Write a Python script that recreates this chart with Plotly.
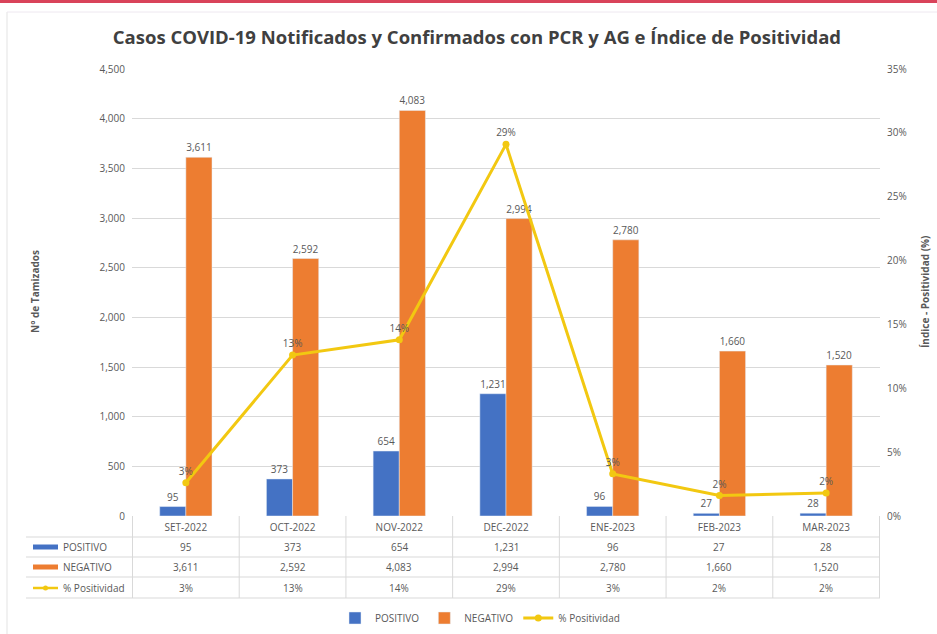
import plotly.graph_objects as go

months = ["SET-2022", "OCT-2022", "NOV-2022", "DEC-2022", "ENE-2023", "FEB-2023", "MAR-2023"]
positivo = [95, 373, 654, 1231, 96, 27, 28]
negativo = [3611, 2592, 4083, 2994, 2780, 1660, 1520]
positividad = [2.6, 12.6, 13.8, 29.1, 3.3, 1.6, 1.8]
positividad_labels = ["3%", "13%", "14%", "29%", "3%", "2%", "2%"]

BLUE = "#4472C4"
ORANGE = "#ED7D31"
YELLOW = "#F2C811"
GRAY = "#595959"
FONT = "Open Sans"

W, H = 937, 634
L, R, T, B = 132, 57, 69, 118
plot_w = W - L - R
plot_h = H - T - B


def px_to_py(y_px):
    # pixel row -> paper y
    return (H - B - y_px) / plot_h


def px_to_px(x_px):
    return (x_px - L) / plot_w


fig = go.Figure()

fig.add_trace(go.Bar(
    x=months, y=positivo, name="POSITIVO", marker_color=BLUE,
    text=[f"{v:,}" for v in positivo], textposition="outside",
    textfont=dict(size=10, color=GRAY), cliponaxis=False,
))
fig.add_trace(go.Bar(
    x=months, y=negativo, name="NEGATIVO", marker_color=ORANGE,
    text=[f"{v:,}" for v in negativo], textposition="outside",
    textfont=dict(size=10, color=GRAY), cliponaxis=False,
))
fig.add_trace(go.Scatter(
    x=months, y=positividad, name="% Positividad", yaxis="y2",
    mode="lines+markers+text", line=dict(color=YELLOW, width=3),
    marker=dict(size=7, color=YELLOW),
    text=positividad_labels, textposition="top center",
    textfont=dict(size=10, color=GRAY), cliponaxis=False,
))

# data table under the x axis
row_names = ["POSITIVO", "NEGATIVO", "% Positividad"]
row_values = [
    [f"{v:,}" for v in positivo],
    [f"{v:,}" for v in negativo],
    positividad_labels,
]
row_centers = [547, 567, 588]
row_lines = [537, 557, 577, 598]

annotations = []
shapes = []
for name, vals, yc in zip(row_names, row_values, row_centers):
    for m, v in zip(months, vals):
        annotations.append(dict(
            x=m, y=px_to_py(yc), xref="x", yref="paper", text=v,
            xanchor="center", yanchor="middle",
            showarrow=False, font=dict(size=10, color=GRAY),
        ))
    annotations.append(dict(
        x=px_to_px(61), y=px_to_py(yc), xref="paper", yref="paper", text=name,
        showarrow=False, xanchor="left", yanchor="middle",
        font=dict(size=10, color=GRAY),
    ))

for yl in row_lines:
    shapes.append(dict(
        type="line", xref="paper", yref="paper",
        x0=px_to_px(26), x1=1, y0=px_to_py(yl), y1=px_to_py(yl),
        line=dict(color="#D9D9D9", width=1),
    ))
for i in range(len(months) + 1):
    shapes.append(dict(
        type="line", xref="x", yref="paper",
        x0=i - 0.5, x1=i - 0.5, y0=0, y1=px_to_py(598),
        line=dict(color="#D9D9D9", width=1),
    ))

# legend keys inside the table
for col, yc in [(BLUE, 547), (ORANGE, 567)]:
    shapes.append(dict(
        type="rect", xref="paper", yref="paper",
        x0=px_to_px(33), x1=px_to_px(58),
        y0=px_to_py(yc + 2.5), y1=px_to_py(yc - 2.5),
        fillcolor=col, line=dict(width=0),
    ))
shapes.append(dict(
    type="line", xref="paper", yref="paper",
    x0=px_to_px(33), x1=px_to_px(58), y0=px_to_py(588), y1=px_to_py(588),
    line=dict(color=YELLOW, width=2.5),
))
shapes.append(dict(
    type="circle", xref="paper", yref="paper",
    x0=px_to_px(43), x1=px_to_px(48), y0=px_to_py(590.5), y1=px_to_py(585.5),
    fillcolor=YELLOW, line=dict(width=0),
))

# page decoration: red band on top and light frame
shapes.append(dict(
    type="rect", xref="paper", yref="paper",
    x0=px_to_px(0), x1=px_to_px(W), y0=px_to_py(0), y1=px_to_py(3),
    fillcolor="#D9435A", line=dict(width=0), layer="below",
))
shapes.append(dict(
    type="line", xref="paper", yref="paper",
    x0=px_to_px(7), x1=px_to_px(7), y0=px_to_py(12), y1=px_to_py(H),
    line=dict(color="#E3E3E3", width=1), layer="below",
))
shapes.append(dict(
    type="line", xref="paper", yref="paper",
    x0=px_to_px(7), x1=px_to_px(W), y0=px_to_py(12), y1=px_to_py(12),
    line=dict(color="#EEE8F0", width=1), layer="below",
))

# axis titles
annotations.append(dict(
    x=px_to_px(35), y=px_to_py(292), xref="paper", yref="paper",
    text="<b>N° de Tamizados</b>", textangle=-90, showarrow=False,
    xanchor="center", yanchor="middle", font=dict(size=10, color=GRAY),
))
annotations.append(dict(
    x=px_to_px(925), y=px_to_py(292), xref="paper", yref="paper",
    text="<b>Índice - Positividad (%)</b>", textangle=-90, showarrow=False,
    xanchor="center", yanchor="middle", font=dict(size=10, color=GRAY),
))

fig.update_layout(
    width=W, height=H,
    margin=dict(l=L, r=R, t=T, b=B, autoexpand=False),
    paper_bgcolor="white", plot_bgcolor="white",
    font=dict(family=FONT, color=GRAY, size=10),
    title=dict(
        text="<b>Casos COVID-19 Notificados y Confirmados con PCR y AG e Índice de Positividad</b>",
        x=0.509, xanchor="center", xref="container",
        y=1 - 38 / H, yanchor="middle",
        font=dict(family=FONT, size=18.5, color="#404040"),
    ),
    barmode="group", bargap=0.51, bargroupgap=0,
    xaxis=dict(
        tickfont=dict(size=10, color=GRAY), showgrid=False, showline=False,
        ticks="", ticklabelstandoff=4,
    ),
    yaxis=dict(
        range=[0, 4500], dtick=500, tickformat=",", gridcolor="#D9D9D9",
        zeroline=False, tickfont=dict(size=10, color=GRAY), ticklabelstandoff=6,
    ),
    yaxis2=dict(
        range=[0, 35], dtick=5, ticksuffix="%", overlaying="y", side="right",
        showgrid=False, zeroline=False, tickfont=dict(size=10, color=GRAY),
        ticklabelstandoff=6,
    ),
    legend=dict(
        orientation="h", x=px_to_px(480), xanchor="center",
        y=px_to_py(618), yanchor="middle",
        font=dict(size=10, color=GRAY), traceorder="normal",
    ),
    shapes=shapes,
    annotations=annotations,
)

# the page body has a default 8px margin; drop it so the figure sits at 0,0
fig.write_html(
    "out.html",
    config={"displayModeBar": False},
    post_script="document.body.style.margin='0';",
)
